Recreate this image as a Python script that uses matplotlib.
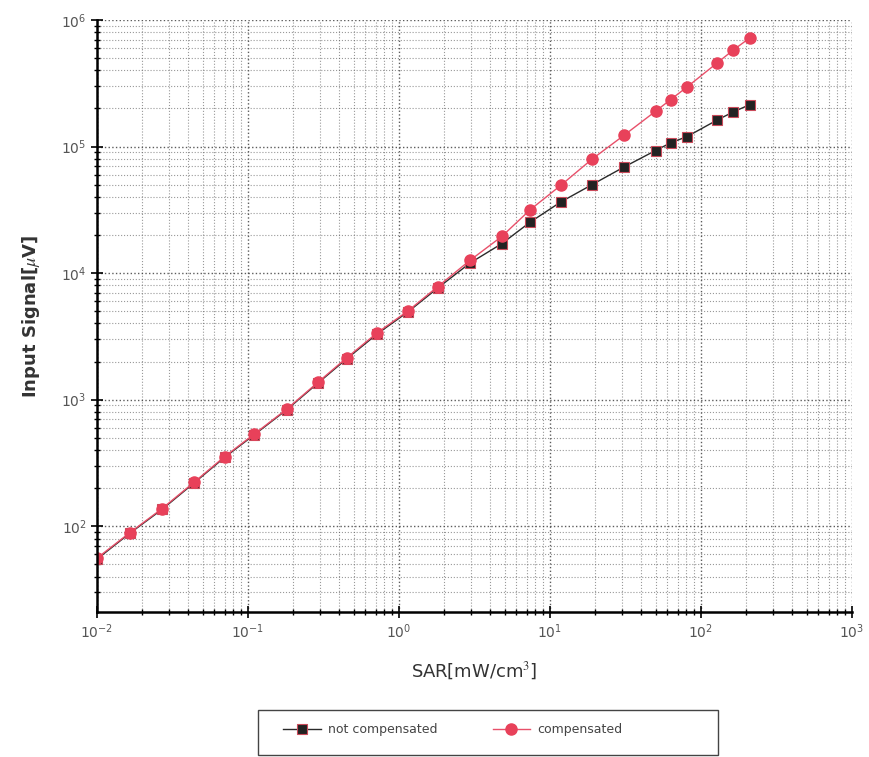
import numpy as np
import matplotlib
matplotlib.use("Agg")
import matplotlib.pyplot as plt
from matplotlib.ticker import LogLocator, NullFormatter
from matplotlib.patches import Rectangle

# SAR values (mW/cm^3)
sar = [0.01, 0.0165, 0.027, 0.044, 0.07, 0.11, 0.18, 0.29, 0.45, 0.72,
       1.15, 1.8, 2.95, 4.8, 7.4, 11.8, 19, 31, 50, 63, 81, 128, 164, 210]

# compensated signal (uV)
comp = [56, 89, 138, 223, 355, 535, 840, 1370, 2140, 3390,
        5040, 7800, 12600, 19500, 31700, 49400, 79600, 123000, 190000,
        235000, 296000, 458000, 580000, 720000]

# not compensated signal (uV)
not_comp = [55, 88, 136, 220, 350, 528, 830, 1350, 2100, 3320,
            4950, 7600, 12000, 17100, 25300, 36500, 50000, 69000, 93000,
            107000, 120000, 162000, 188000, 214000]

plt.rcParams['mathtext.fontset'] = 'stix'

fig = plt.figure(figsize=(8.69, 7.57), dpi=100)
ax = fig.add_axes([0.1116, 0.1915, 0.8688, 0.7821])

ax.plot(sar, not_comp, color="#2a2a2a", lw=1.0, marker="s", ms=7,
        mfc="#222222", mec="#c94a5a", mew=0.8, label="not compensated")
ax.plot(sar, comp, color="#e8506a", lw=1.0, marker="o", ms=8,
        mfc="#e8415a", mec="#e8415a", label="compensated")

ax.set_xscale("log")
ax.set_yscale("log")
ax.set_xlim(1e-2, 1e3)
ax.set_ylim(21, 1e6)

ax.xaxis.set_minor_locator(LogLocator(base=10, subs=np.arange(2, 10), numticks=20))
ax.yaxis.set_minor_locator(LogLocator(base=10, subs=np.arange(2, 10), numticks=20))
ax.xaxis.set_minor_formatter(NullFormatter())
ax.yaxis.set_minor_formatter(NullFormatter())

ax.grid(True, which="major", ls=":", color="#333333", lw=1.0, alpha=0.8)
ax.grid(True, which="minor", ls=":", color="#555555", lw=0.8, alpha=0.6)

ax.spines["top"].set_visible(False)
ax.spines["right"].set_visible(False)
ax.spines["left"].set_linewidth(1.8)
ax.spines["bottom"].set_linewidth(1.8)

ax.tick_params(which="major", direction="inout", length=8, width=1.2,
               labelsize=10, labelcolor="#555555")
ax.tick_params(which="minor", direction="inout", length=5, width=1.0)

ax.set_xlabel("SAR[mW/cm$^3$]", fontsize=13, color="#333333", labelpad=14)
ax.set_ylabel("Input Signal[$\\mu$V]", fontsize=13, fontweight="bold",
              color="#333333", labelpad=14)

# legend: entries placed by hand, frame drawn as a separate box
leg = fig.legend(loc="center left", bbox_to_anchor=(0.3257, 0.0357),
                 bbox_transform=fig.transFigure, ncol=2, fontsize=9,
                 frameon=False, borderpad=0, borderaxespad=0,
                 handlelength=3.0, handletextpad=0.6, columnspacing=4.4,
                 labelcolor="#444444")
fig.patches.append(Rectangle((0.2969, 0.0026), 0.5293, 0.0595,
                             transform=fig.transFigure, fill=False,
                             edgecolor="#444444", lw=1.0))

fig.savefig("out.png", dpi=100)
